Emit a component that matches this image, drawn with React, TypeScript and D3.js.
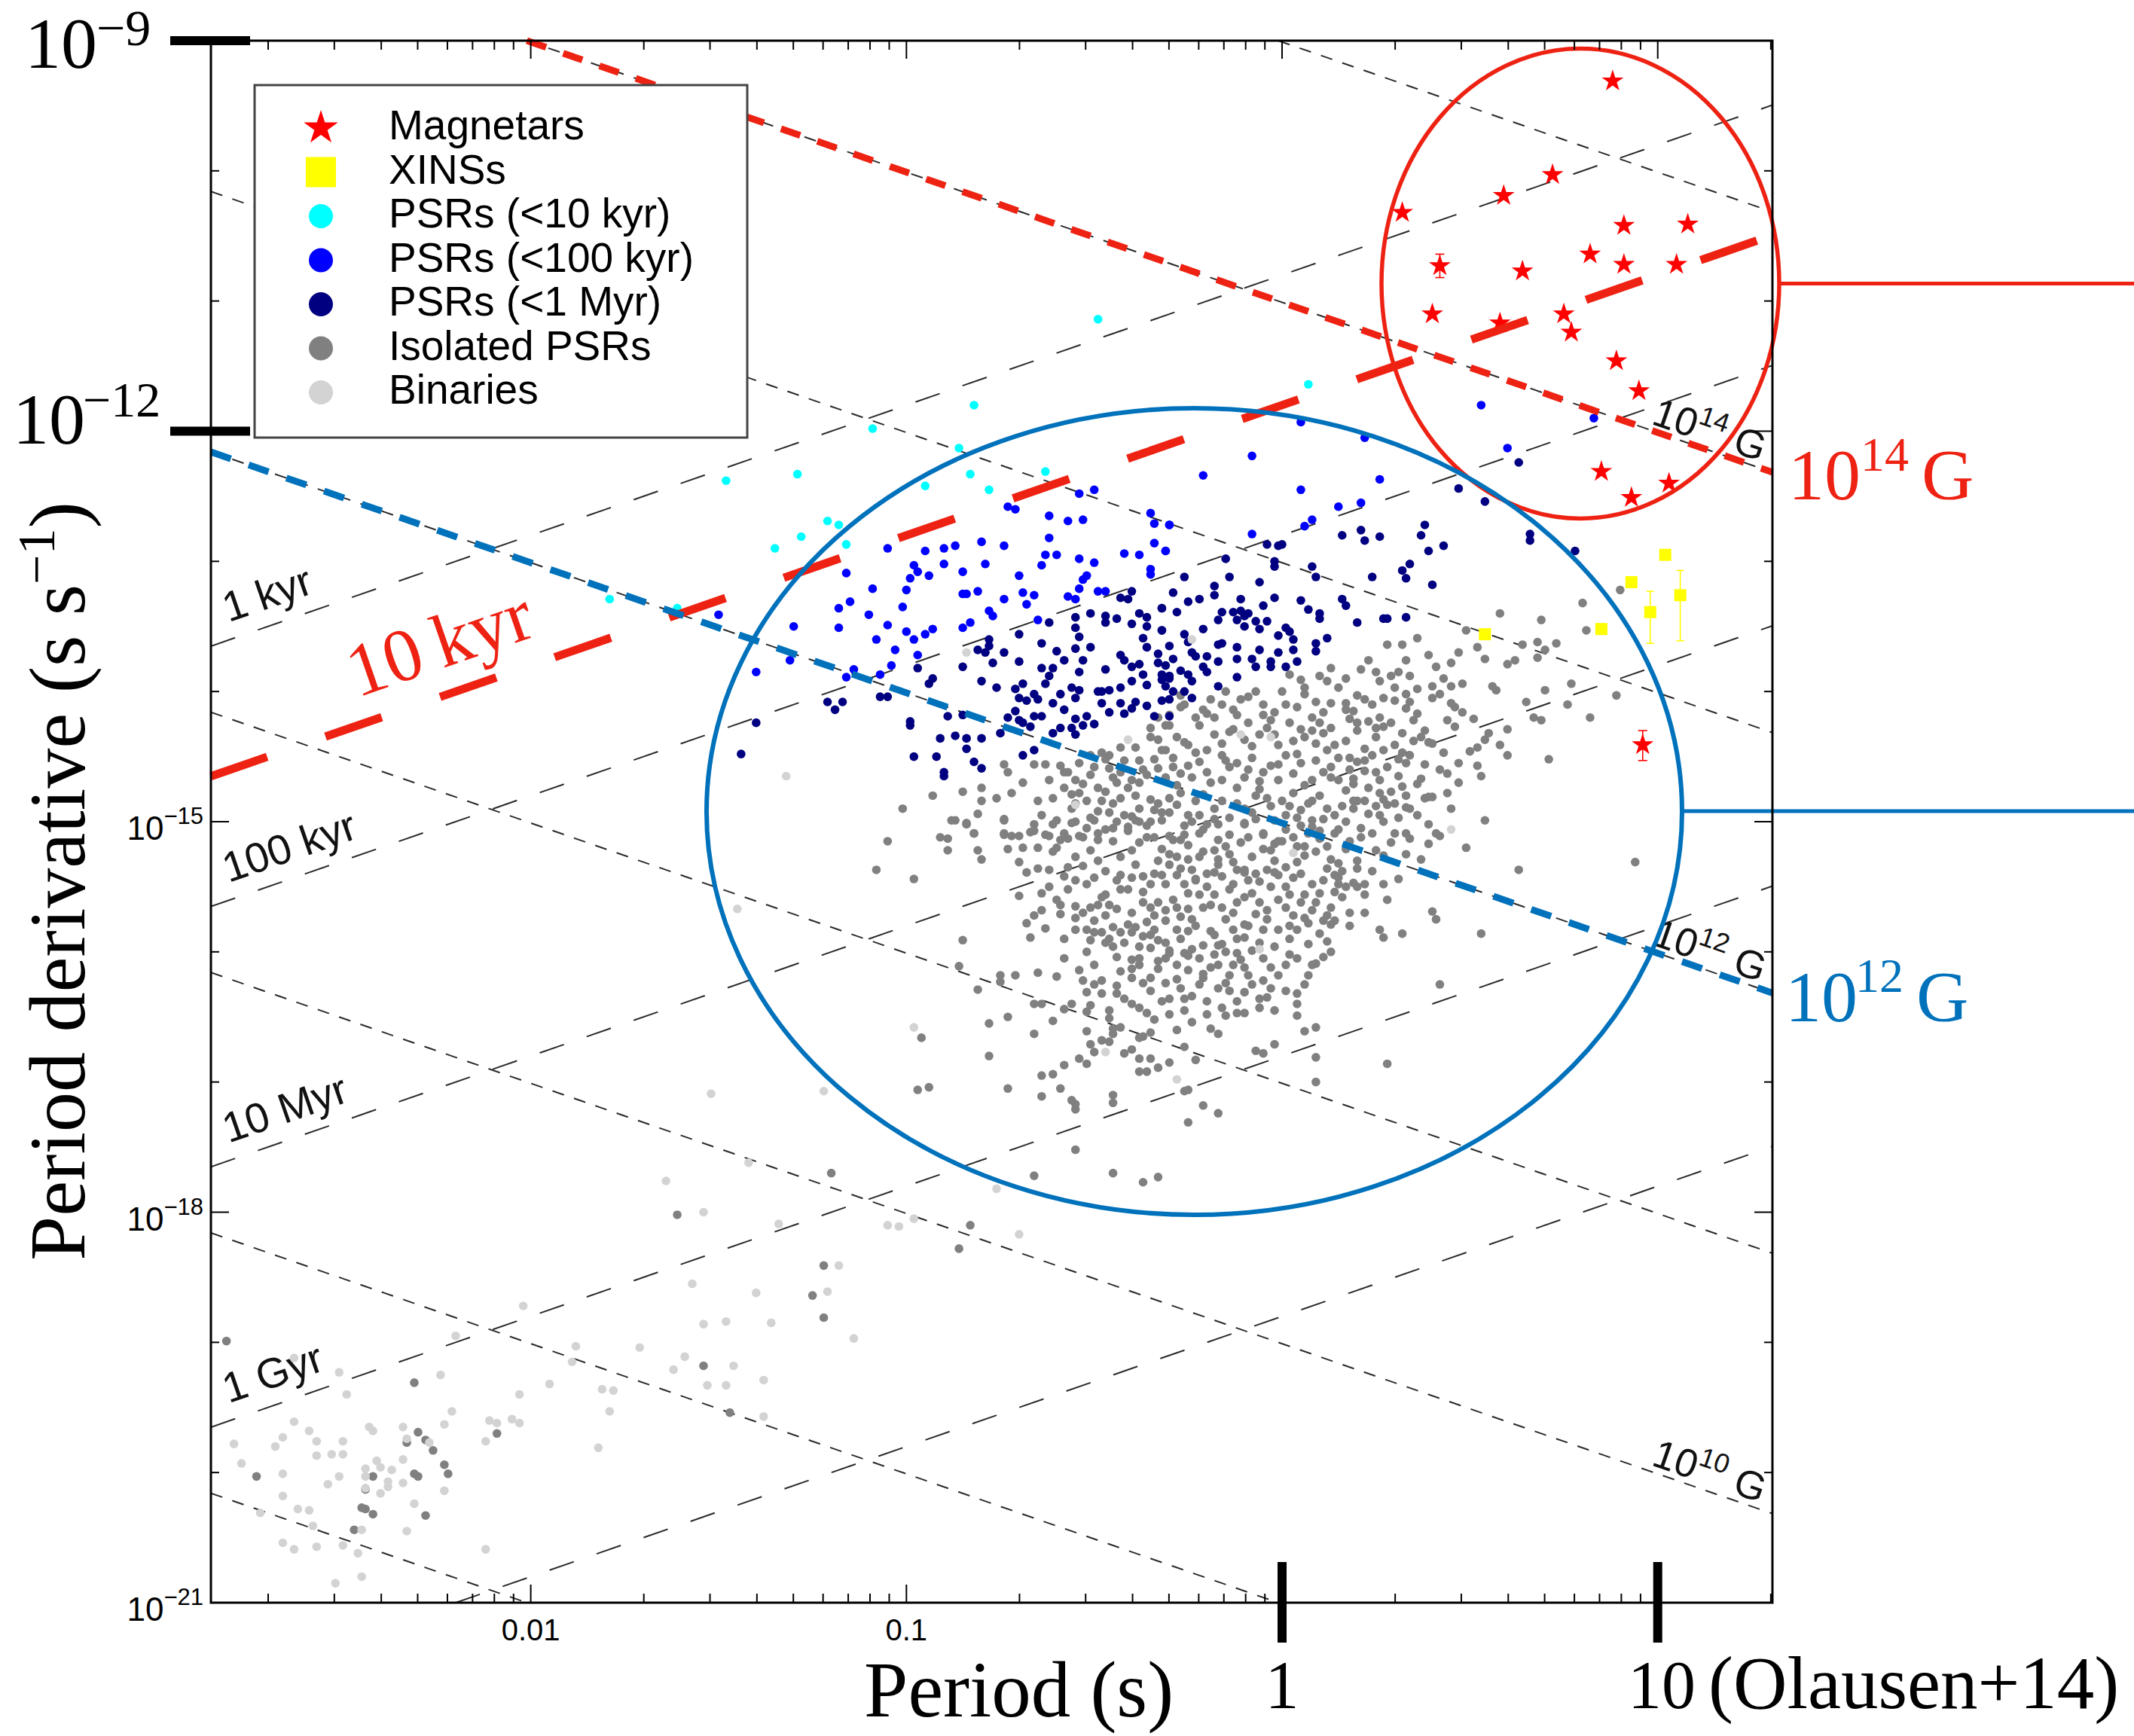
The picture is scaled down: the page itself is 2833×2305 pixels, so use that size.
import * as d3 from "d3";

type Pt = [number, number];

// all values are [log10 P (s), log10 Pdot (s/s)]
const magnetars: Pt[] = [
  [0.88, -9.31], [0.72, -10.03], [0.59, -10.19], [0.32, -10.32], [0.91, -10.42], [1.08, -10.41],
  [0.82, -10.64], [0.91, -10.72], [1.05, -10.72], [0.42, -10.73], [0.64, -10.77], [0.40, -11.10],
  [0.58, -11.17], [0.75, -11.10], [0.77, -11.24], [0.89, -11.46], [0.95, -11.69], [0.85, -12.31],
  [1.03, -12.40], [0.93, -12.51], [0.96, -14.41],
];
const magnetarErrors: [number, number, number][] = [[0.42, -10.64, -10.82], [0.96, -14.30, -14.53]];

const xinss: Pt[] = [[1.02, -12.95], [0.93, -13.16], [0.98, -13.39], [1.06, -13.26], [0.54, -13.56], [0.85, -13.52]];
const xinsErrors: [number, number, number][] = [[0.98, -13.23, -13.63], [1.06, -13.07, -13.61]];

const psr10kyr: Pt[] = [
  [-0.86, -12.13], [-1.29, -12.33], [-1.48, -12.38], [-0.95, -12.42], [-0.83, -12.33], [-0.78, -12.45],
  [-0.63, -12.31], [-1.21, -12.69], [-1.18, -12.72], [-1.28, -12.81], [-1.35, -12.90], [-1.16, -12.87],
  [-0.49, -11.14], [0.07, -11.64], [-1.79, -13.29], [-1.61, -13.36], [-0.82, -11.80], [-1.09, -11.98],
];

const psr100kyr: Pt[] = [
  [-0.54, -12.48], [-0.50, -12.45], [-0.73, -12.58], [-0.71, -12.60], [-0.62, -12.65], [-0.57, -12.69],
  [-0.53, -12.68], [-0.35, -12.63], [-0.34, -12.71], [-0.30, -12.72], [-0.62, -12.82], [-0.80, -12.85],
  [-0.74, -12.88], [-0.87, -12.88], [-0.90, -12.90], [-0.95, -12.92], [-1.05, -12.90], [-0.63, -12.95],
  [-0.60, -12.95], [-0.54, -12.98], [-0.50, -13.01], [-0.42, -12.94], [-0.38, -12.95], [-0.34, -12.86],
  [-0.31, -12.92], [-0.79, -13.02], [-0.90, -13.02], [-0.98, -13.03], [-0.97, -13.08], [-0.94, -13.11],
  [-0.99, -13.13], [-1.16, -13.09], [-0.85, -13.08], [-0.64, -13.03], [-0.35, -13.06], [-0.35, -13.10],
  [-0.70, -13.11], [-0.52, -13.11], [-0.53, -13.14], [-1.09, -13.21], [-1.00, -13.22], [-0.85, -13.25],
  [-0.84, -13.25], [-0.81, -13.23], [-0.69, -13.24], [-0.66, -13.26], [-0.54, -13.21], [-0.49, -13.23],
  [-0.47, -13.23], [-0.57, -13.27], [-0.55, -13.29], [-0.68, -13.33], [-0.74, -13.29], [-1.15, -13.31],
  [-1.18, -13.36], [-1.01, -13.35], [-1.10, -13.41], [-0.78, -13.38], [-0.77, -13.42], [-1.30, -13.50],
  [-1.18, -13.51], [-1.05, -13.49], [-1.00, -13.54], [-0.95, -13.56], [-0.93, -13.52], [-0.98, -13.60],
  [-0.85, -13.51], [-0.83, -13.47], [-0.65, -13.45], [-1.08, -13.60], [-1.03, -13.68], [-0.97, -13.72],
  [-1.04, -13.80], [-1.07, -13.87], [-1.14, -13.83], [-1.16, -13.89], [-1.31, -13.76], [-1.40, -13.85],
  [0.22, -12.05], [-0.08, -12.19], [-0.21, -12.34], [0.05, -12.45], [0.26, -12.37], [0.15, -12.58],
  [0.21, -12.55], [0.08, -12.68], [0.06, -12.73], [-0.08, -12.79], [-0.30, -12.72], [-0.31, -12.92],
  [0.60, -12.13], [0.05, -11.93], [0.53, -11.80], [0.83, -11.90], [-1.50, -13.41],
];

const psr1Myr: Pt[] = [
  [-0.70, -13.56], [-0.78, -13.60], [-0.78, -13.65], [-0.81, -13.68], [-0.74, -13.70], [-0.79, -13.70],
  [-0.77, -13.78], [-0.85, -13.81], [-0.97, -13.82], [-0.70, -13.77], [-0.64, -13.63], [-0.60, -13.69],
  [-0.62, -13.47], [-0.55, -13.43], [-0.55, -13.51], [-0.51, -13.40], [-0.47, -13.42], [-0.44, -13.44],
  [-0.47, -13.47], [-0.54, -13.58], [-0.55, -13.67], [-0.51, -13.66], [-0.58, -13.76], [-0.53, -13.76],
  [-0.64, -13.82], [-0.61, -13.82], [-0.54, -13.85], [-0.47, -13.83], [-0.40, -13.23], [-0.43, -13.28],
  [-0.41, -13.29], [-0.38, -13.40], [-0.36, -13.43], [-0.32, -13.36], [-0.40, -13.48], [-0.36, -13.50],
  [-0.32, -13.53], [-0.37, -13.59], [-0.36, -13.66], [-0.33, -13.71], [-0.30, -13.65], [-0.43, -13.72],
  [-0.42, -13.76], [-0.40, -13.81], [-0.38, -13.79], [-0.33, -13.78], [-0.37, -13.87], [-0.32, -13.87],
  [-0.30, -13.90], [-0.36, -13.95], [-0.31, -13.96], [-0.40, -13.92], [-0.43, -13.97], [-0.48, -14.00],
  [-0.46, -13.99], [-0.49, -14.00], [-0.56, -13.97], [-0.54, -13.99], [-0.59, -14.02], [-0.62, -13.88],
  [-0.63, -13.94], [-0.66, -14.02], [-0.69, -13.94], [-0.71, -13.98], [-0.70, -14.05], [-0.68, -14.07],
  [-0.65, -14.06], [-0.61, -14.09], [-0.58, -14.14], [-0.55, -14.05], [-0.48, -14.09], [-0.43, -14.09],
  [-0.39, -14.08], [-0.36, -14.11], [-0.32, -14.07], [-0.46, -14.16], [-0.42, -14.17], [-0.40, -14.13],
  [-0.34, -14.19], [-0.30, -14.19], [-0.71, -14.15], [-0.73, -14.20], [-0.70, -14.22], [-0.66, -14.19],
  [-0.64, -14.19], [-0.55, -14.21], [-0.52, -14.19], [-0.50, -14.25], [-0.53, -14.26], [-0.59, -14.28],
  [-0.56, -14.28], [-0.55, -14.33], [-0.61, -14.32], [-0.67, -14.27], [-0.69, -14.24], [-0.75, -14.32],
  [-0.76, -13.97], [-0.80, -13.92], [-0.93, -13.90], [-0.94, -13.94], [-1.07, -14.04], [-1.05, -14.04],
  [-0.99, -14.23], [-0.99, -14.26], [-0.89, -14.19], [-0.85, -14.18], [-0.91, -14.36], [-0.87, -14.34],
  [-0.84, -14.36], [-0.80, -14.36], [-0.84, -14.44], [-0.98, -14.50], [-0.92, -14.50], [-0.82, -14.54],
  [-0.80, -14.59], [-0.90, -14.62], [-0.90, -14.65], [-0.69, -14.49], [-0.66, -14.45], [-1.21, -14.08],
  [-1.17, -14.08], [-1.19, -14.14], [-1.40, -14.24], [-1.44, -14.48],
  [0.63, -12.24], [0.47, -12.44], [0.54, -12.54], [0.66, -12.79], [0.66, -12.84], [0.78, -12.92],
  [0.38, -12.72], [0.37, -12.80], [0.39, -12.92], [0.43, -12.88], [0.34, -13.02], [0.32, -13.07],
  [0.33, -13.13], [0.40, -13.18], [0.24, -13.12], [0.16, -12.80], [0.21, -12.76], [0.22, -12.84],
  [0.26, -12.81], [-0.04, -12.87], [-0.01, -12.88], [0.00, -12.87], [-0.02, -13.00], [-0.02, -13.04],
  [0.08, -13.04], [0.09, -13.12], [-0.15, -12.98], [-0.26, -13.12], [-0.14, -13.12], [-0.06, -13.16],
  [-0.18, -13.19], [-0.29, -13.24], [-0.22, -13.29], [-0.18, -13.26], [-0.25, -13.31], [-0.11, -13.29],
  [-0.02, -13.28], [0.05, -13.30], [-0.05, -13.34], [0.07, -13.37], [0.10, -13.40], [0.10, -13.44],
  [0.16, -13.29], [0.17, -13.34], [0.20, -13.47], [0.27, -13.44], [0.28, -13.44], [0.33, -13.43],
  [0.12, -13.59], [0.09, -13.63], [0.09, -13.69], [-0.32, -13.36], [-0.28, -13.39], [-0.17, -13.45],
  [-0.16, -13.39], [-0.13, -13.39], [-0.11, -13.38], [-0.12, -13.45], [-0.10, -13.42], [-0.09, -13.40],
  [-0.10, -13.50], [-0.07, -13.46], [-0.06, -13.52], [-0.04, -13.46], [0.01, -13.51], [0.02, -13.54],
  [-0.01, -13.57], [0.03, -13.60], [-0.21, -13.52], [-0.32, -13.53], [-0.26, -13.56], [-0.25, -13.62],
  [-0.17, -13.64], [-0.16, -13.63], [-0.12, -13.66], [-0.12, -13.75], [-0.06, -13.68], [-0.01, -13.70],
  [0.03, -13.68], [-0.08, -13.75], [-0.07, -13.81], [-0.03, -13.77], [-0.03, -13.81], [0.01, -13.81],
  [0.04, -13.77], [-0.29, -13.75], [-0.31, -13.80], [-0.27, -13.84], [-0.24, -13.70], [-0.23, -13.73],
  [-0.20, -13.73], [-0.17, -13.77], [-0.21, -13.81], [-0.20, -13.85], [-0.25, -13.87], [-0.30, -13.88],
  [-0.32, -13.91], [-0.24, -13.92], [-0.29, -14.00], [-0.26, -14.00], [-0.24, -14.05], [-0.30, -14.06],
  [-0.12, -13.89], [-0.17, -13.96],
];

const isolatedPsrs: Pt[] = [
  [-0.74, -14.56], [-0.66, -14.56], [-0.63, -14.56], [-0.73, -14.62], [-0.69, -14.70], [-0.62, -14.68],
  [-0.59, -14.57], [-0.57, -14.62], [-0.54, -14.55], [-0.51, -14.49], [-0.48, -14.47], [-0.46, -14.49],
  [-0.43, -14.43], [-0.39, -14.43], [-0.35, -14.28], [-0.33, -14.20], [-0.30, -14.26], [-0.33, -14.37],
  [-0.31, -14.45], [-0.38, -14.53], [-0.42, -14.53], [-0.46, -14.59], [-0.51, -14.64], [-0.55, -14.68],
  [-0.58, -14.74], [-0.54, -14.78], [-0.49, -14.74], [-0.44, -14.70], [-0.40, -14.68], [-0.36, -14.64],
  [-0.33, -14.59], [-0.31, -14.68], [-0.39, -14.80], [-0.43, -14.82], [-0.48, -14.84], [-0.52, -14.84],
  [-0.56, -14.90], [-0.61, -14.82], [-0.65, -14.84], [-0.64, -14.95], [-0.60, -14.99], [-0.56, -15.01],
  [-0.51, -14.97], [-0.46, -14.93], [-0.42, -14.95], [-0.38, -14.90], [-0.33, -14.86], [-0.30, -14.82],
  [-0.32, -14.99], [-0.36, -15.03], [-0.41, -15.07], [-0.45, -15.05], [-0.49, -15.09], [-0.54, -15.11],
  [-0.58, -15.09], [-0.62, -15.11], [-0.66, -15.07], [-0.70, -15.11], [-0.74, -15.09], [-0.72, -14.78],
  [-0.76, -14.82], [-0.80, -14.74], [-0.80, -14.84], [-0.85, -14.77], [-0.93, -14.80], [-1.01, -14.90],
  [-0.88, -14.99], [-0.84, -15.02], [-0.82, -15.09], [-0.74, -14.99], [-0.91, -15.12], [-1.05, -15.15],
  [-0.81, -14.94],
  [0.58, -13.40], [0.80, -13.32], [0.90, -13.22],
  [0.02, -13.87], [0.00, -14.00], [0.05, -13.91], [0.10, -13.88], [0.12, -13.92], [0.06, -13.97],
  [0.09, -14.08], [0.13, -14.09], [0.11, -14.16], [0.08, -14.20], [0.13, -14.28], [0.06, -14.35],
  [0.09, -14.40], [0.12, -14.45], [0.15, -14.51], [0.15, -14.68], [0.11, -14.62], [0.08, -14.68],
  [0.05, -14.55], [0.01, -14.49], [-0.01, -14.41], [-0.02, -14.33], [0.02, -14.24], [-0.02, -14.16],
  [-0.05, -14.10], [-0.07, -14.00], [-0.11, -14.06], [-0.15, -14.00], [-0.16, -14.10], [-0.12, -14.18],
  [-0.09, -14.24], [-0.06, -14.33], [-0.10, -14.37], [-0.14, -14.31], [-0.18, -14.20], [-0.21, -14.14],
  [-0.23, -14.20], [-0.27, -14.12], [-0.30, -14.18], [-0.31, -14.26], [-0.28, -14.35], [-0.25, -14.41],
  [-0.20, -14.45], [-0.16, -14.49], [-0.12, -14.55], [-0.08, -14.51], [-0.05, -14.62], [-0.01, -14.68],
  [0.03, -14.78], [0.08, -14.84], [0.12, -14.90], [0.14, -15.09], [0.10, -15.07], [0.05, -15.03],
  [0.01, -14.95], [-0.03, -14.88], [-0.07, -14.80], [-0.12, -14.74], [-0.16, -14.68], [-0.20, -14.62],
  [-0.25, -14.57], [-0.29, -14.51], [-0.32, -14.45], [-0.31, -14.66], [-0.27, -14.78], [-0.23, -14.84],
  [-0.18, -14.90], [-0.14, -14.97], [-0.10, -15.01], [-0.05, -15.09], [-0.01, -15.15], [-0.30, -14.93],
  [-0.26, -15.03], [-0.22, -15.09], [-0.17, -15.14], [-0.30, -15.11],
  [-0.87, -14.99], [-0.84, -15.01], [-0.89, -15.13], [-0.89, -15.22], [-0.82, -15.09], [-0.81, -15.22],
  [-0.80, -15.29], [-0.74, -14.98], [-0.74, -15.10], [-0.72, -15.11], [-0.73, -15.21], [-0.69, -15.20],
  [-0.67, -15.08], [-0.66, -15.02], [-0.63, -15.10], [-0.65, -15.20], [-0.70, -15.31], [-0.68, -15.39],
  [-0.65, -15.36], [-0.62, -15.37], [-0.62, -15.50], [-0.64, -15.55], [-0.70, -15.57], [-0.57, -15.52],
  [-0.58, -15.42], [-0.59, -15.64], [-0.59, -15.71], [-0.64, -15.68], [-0.66, -15.72], [-0.68, -15.78],
  [-0.63, -15.82], [-0.67, -15.89], [-0.85, -15.91], [-0.86, -16.11], [-0.75, -16.18], [-0.71, -16.18],
  [-0.65, -16.16], [-0.60, -16.19], [-0.81, -16.29], [-0.75, -16.23], [-0.55, -15.65], [-0.55, -15.83],
  [-0.52, -15.83], [-0.51, -15.91], [-0.51, -15.66], [-0.49, -15.64], [-0.47, -15.56], [-0.50, -15.43],
  [-0.52, -15.48], [-0.53, -15.34], [-0.55, -15.27], [-0.59, -15.14], [-0.61, -15.23], [-0.61, -15.02],
  [-0.55, -15.00], [-0.53, -15.12], [-0.49, -15.14], [-0.47, -15.06], [-0.44, -15.00], [-0.41, -15.04],
  [-0.38, -15.00], [-0.35, -15.00], [-0.34, -15.12], [-0.32, -15.21], [-0.29, -15.14], [-0.26, -15.10],
  [-0.24, -15.00], [-0.21, -15.06], [-0.17, -15.02], [-0.14, -15.10], [-0.10, -15.02], [-0.07, -14.98],
  [-0.05, -15.10], [-0.02, -15.17], [0.01, -15.06], [0.03, -15.12], [0.08, -15.04], [0.11, -14.98],
  [0.15, -15.06], [0.17, -15.21], [0.13, -15.29], [0.09, -15.23], [0.06, -15.19], [0.04, -15.31],
  [0.01, -15.35], [-0.02, -15.39], [-0.07, -15.40], [-0.10, -15.37], [-0.12, -15.37], [-0.14, -15.25],
  [-0.17, -15.29], [-0.21, -15.23], [-0.25, -15.29], [-0.28, -15.27], [-0.30, -15.33], [-0.32, -15.41],
  [-0.35, -15.48], [-0.37, -15.54], [-0.40, -15.43], [-0.43, -15.41], [-0.43, -15.52], [-0.47, -15.72],
  [-0.45, -15.81], [-0.48, -15.85], [-0.50, -15.76], [-0.47, -15.93], [-0.45, -15.96], [-0.43, -15.85],
  [-0.41, -15.79], [-0.39, -15.81], [-0.40, -15.70], [-0.35, -15.66], [-0.33, -15.62], [-0.31, -15.68],
  [-0.31, -15.76], [-0.34, -15.83], [-0.35, -15.87], [-0.33, -15.91], [-0.31, -15.93], [-0.30, -15.99],
  [-0.28, -15.83], [-0.25, -15.84], [-0.25, -15.67], [-0.21, -15.66], [-0.19, -15.64], [-0.18, -15.56],
  [-0.20, -15.50], [-0.23, -15.44], [-0.26, -15.48], [-0.28, -15.41], [-0.24, -15.37], [-0.18, -15.39],
  [-0.17, -15.33], [-0.13, -15.48], [-0.10, -15.39], [-0.12, -15.62], [-0.10, -15.58], [-0.06, -15.62],
  [-0.04, -15.68], [-0.03, -15.50], [-0.01, -15.41], [0.02, -15.56], [0.05, -15.62], [0.01, -15.66],
  [0.06, -15.56], [0.09, -15.62], [0.13, -15.66], [0.14, -15.76], [0.11, -15.76], [0.06, -15.74],
  [0.04, -15.83], [-0.01, -15.83], [-0.05, -15.83], [-0.10, -15.79], [-0.13, -15.83], [-0.10, -15.89],
  [-0.06, -15.93], [-0.08, -15.99], [-0.10, -16.12], [-0.05, -16.22], [-0.03, -16.28], [-0.09, -16.18],
  [-0.12, -16.01], [-0.15, -16.00], [-0.17, -15.95], [-0.18, -15.87], [-0.21, -15.95], [-0.22, -16.05],
  [-0.19, -16.12], [-0.17, -16.10], [-0.14, -16.18], [-0.15, -16.24], [-0.17, -16.28], [-0.21, -16.17],
  [-0.25, -16.14], [-0.25, -16.03], [-0.26, -16.01], [-0.30, -16.01], [-0.33, -16.07], [-0.35, -15.97],
  [-0.38, -16.05], [-0.40, -16.13], [-0.40, -16.06], [-0.33, -16.13], [-0.35, -16.20], [-0.38, -16.10],
  [-0.31, -16.24], [-0.28, -16.21], [-0.30, -16.36], [-0.32, -16.38], [-0.26, -16.36], [-0.24, -16.34],
  [-0.26, -16.45], [-0.24, -16.54], [-0.20, -16.48], [-0.16, -16.43], [-0.15, -16.49], [-0.12, -16.38],
  [-0.10, -16.31], [-0.12, -16.47], [-0.06, -16.36], [-0.06, -16.43], [-0.10, -16.47], [-0.19, -16.59],
  [-0.17, -16.63], [-0.07, -16.76], [-0.05, -16.78], [-0.02, -16.71], [0.04, -16.32], [0.04, -16.40],
  [0.04, -16.49], [0.06, -16.61], [0.09, -16.58], [0.09, -16.81], [0.09, -17.00], [0.04, -16.05],
  [0.01, -16.10], [-0.03, -16.12], [0.07, -16.18], [0.09, -16.09], [0.11, -16.04], [0.13, -16.00],
  [0.12, -15.92], [0.13, -15.79], [0.14, -15.54], [0.15, -15.48], [0.14, -15.41], [-0.54, -16.14],
  [-0.53, -16.22], [-0.52, -16.31], [-0.48, -16.22], [-0.48, -16.32], [-0.44, -16.26], [-0.44, -16.32],
  [-0.42, -16.36], [-0.40, -16.40], [-0.38, -16.43], [-0.36, -16.47], [-0.37, -16.65], [-0.35, -16.62],
  [-0.34, -16.52], [-0.38, -16.66], [-0.46, -16.51], [-0.45, -16.59], [-0.45, -16.63], [-0.46, -16.69],
  [-0.48, -16.68], [-0.52, -16.61], [-0.51, -16.71], [-0.50, -16.77], [-0.42, -16.78], [-0.40, -16.75],
  [-0.51, -16.41], [-0.52, -16.46], [-0.58, -16.44], [-0.61, -16.53], [-0.66, -16.40], [-0.64, -16.40],
  [-0.73, -16.50], [-0.78, -16.55], [-0.66, -16.63], [-0.78, -16.80], [-0.58, -16.87], [-0.54, -16.82],
  [-0.52, -16.86], [-0.64, -16.95], [-0.61, -16.94], [-0.73, -17.05], [-0.64, -17.11], [-0.59, -17.05],
  [-0.56, -17.14], [-0.55, -17.21], [-0.55, -17.17], [-0.45, -17.10], [-0.45, -17.16], [-0.38, -16.82],
  [-0.35, -16.82], [-0.38, -16.92], [-0.36, -16.92], [-0.33, -16.89], [-0.30, -16.85], [-0.26, -17.07],
  [-0.25, -17.06], [-0.21, -17.18], [-0.17, -17.24], [-0.25, -17.31], [-0.26, -16.73], [-0.23, -16.83],
  [-0.55, -17.52], [-0.66, -17.72], [-0.45, -17.70], [-0.37, -17.77], [-0.33, -17.73], [-0.83, -18.10],
  [0.28, -13.64], [0.32, -13.64], [0.36, -13.59], [0.49, -13.53], [0.52, -13.66], [0.54, -13.75],
  [0.60, -13.79], [0.62, -13.76], [0.64, -13.64], [0.68, -13.62], [0.68, -13.74], [0.70, -13.68],
  [0.73, -13.63], [0.81, -13.53], [0.69, -13.45], [0.21, -13.83], [0.25, -13.85], [0.29, -13.88],
  [0.31, -13.85], [0.34, -13.88], [0.33, -13.76], [0.39, -13.72], [0.41, -13.81], [0.43, -13.90],
  [0.45, -13.96], [0.48, -13.94], [0.45, -13.78], [0.47, -13.70], [0.17, -13.90], [0.30, -13.97],
  [0.36, -13.98], [0.40, -13.96], [0.42, -14.02], [0.27, -14.05], [0.30, -14.07], [0.33, -14.02],
  [0.34, -14.08], [0.45, -14.09], [0.48, -14.16], [0.19, -14.15], [0.22, -14.06], [0.17, -14.09],
  [0.36, -14.17], [0.44, -14.22], [0.46, -14.27], [0.55, -14.32], [0.54, -14.37], [0.60, -14.29],
  [0.56, -13.96], [0.57, -13.99], [0.65, -14.08], [0.67, -14.20], [0.69, -14.22], [0.70, -13.99],
  [0.77, -13.94], [0.76, -14.10], [0.82, -14.20], [0.89, -14.03], [0.50, -14.46], [0.52, -14.43],
  [0.52, -14.57], [0.60, -14.49], [0.71, -14.52], [0.20, -14.24], [0.23, -14.23], [0.25, -14.28],
  [0.29, -14.24], [0.32, -14.32], [0.35, -14.38], [0.37, -14.35], [0.40, -14.40], [0.43, -14.47],
  [0.34, -14.49], [0.31, -14.52], [0.24, -14.49], [0.20, -14.54], [0.22, -14.61], [0.25, -14.62],
  [0.28, -14.58], [0.31, -14.65], [0.32, -14.73], [0.33, -14.80], [0.34, -14.90], [0.37, -14.67],
  [0.39, -14.81], [0.40, -14.81], [0.44, -14.63], [0.44, -14.78], [0.17, -14.38], [0.18, -14.51],
  [0.19, -14.67], [0.17, -14.76], [0.19, -14.84], [0.23, -14.74], [0.26, -14.78], [0.28, -14.87],
  [0.25, -14.88], [0.22, -14.84], [0.19, -14.90], [0.17, -15.00], [0.21, -15.05], [0.24, -15.09],
  [0.27, -15.00], [0.30, -15.09], [0.33, -15.09], [0.34, -15.13], [0.39, -15.02], [0.41, -15.09],
  [0.42, -15.11], [0.39, -15.17], [0.27, -15.26], [0.31, -15.44], [0.22, -15.48], [0.22, -15.56],
  [0.28, -15.60], [0.19, -15.47], [0.16, -15.38], [0.20, -15.36], [0.22, -15.70], [0.26, -15.83],
  [0.27, -15.89], [0.32, -15.86], [0.40, -15.69], [0.41, -15.75], [0.37, -15.29], [0.49, -15.20],
  [0.54, -14.99], [0.63, -15.37], [0.94, -15.31], [0.53, -15.86], [0.42, -16.25],
  [-1.08, -15.37], [-0.98, -15.44], [-0.96, -16.66], [0.28, -16.86],
  [-0.27, -14.03], [-0.19, -14.06], [-0.09, -14.04], [0.04, -14.12], [0.17, -14.14], [0.24, -14.10],
  [0.33, -14.13], [-0.22, -14.26], [-0.13, -14.29], [-0.03, -14.22], [0.05, -14.29], [0.11, -14.32],
  [0.20, -14.30], [0.27, -14.27], [-0.35, -14.35], [-0.26, -14.39], [-0.18, -14.33], [-0.08, -14.42],
  [0.03, -14.38], [0.14, -14.41], [0.22, -14.44], [0.30, -14.41], [0.38, -14.30],
  [-0.50, -14.58], [-0.45, -14.66], [-0.37, -14.60], [-0.27, -14.63], [-0.22, -14.54], [-0.14, -14.58],
  [-0.10, -14.66], [-0.03, -14.57], [0.03, -14.63], [0.06, -14.72], [0.13, -14.58], [0.19, -14.71],
  [0.26, -14.68], [0.29, -14.77], [0.36, -14.71], [-0.56, -14.79], [-0.47, -14.77], [-0.41, -14.74],
  [-0.35, -14.83], [-0.28, -14.72], [-0.21, -14.79], [-0.12, -14.86], [-0.06, -14.75], [0.00, -14.84],
  [0.05, -14.91], [0.10, -14.80], [0.16, -14.88], [0.23, -14.94], [0.30, -14.86], [-0.49, -14.92],
  [-0.40, -14.96], [-0.34, -14.91], [-0.25, -14.95], [-0.18, -14.98], [-0.08, -14.93], [-0.02, -14.99],
  [0.04, -14.97], [0.08, -14.99],
  [-0.60, -15.20], [-0.52, -15.05], [-0.45, -15.15], [-0.40, -15.22], [-0.36, -15.12], [-0.30, -15.25],
  [-0.25, -15.18], [-0.20, -15.02], [-0.18, -15.22], [-0.11, -15.16], [-0.08, -15.27], [-0.03, -15.22],
  [0.04, -15.19], [0.06, -15.26], [0.10, -15.13], [0.12, -15.36], [0.18, -15.15], [0.20, -15.30],
  [0.25, -15.22], [-0.57, -15.35], [-0.49, -15.30], [-0.44, -15.45], [-0.39, -15.33], [-0.34, -15.40],
  [-0.27, -15.36], [-0.23, -15.45], [-0.16, -15.42], [-0.13, -15.31], [-0.06, -15.46], [-0.02, -15.30],
  [0.03, -15.43], [0.08, -15.48], [0.11, -15.45], [0.17, -15.50], [0.24, -15.38],
  [-0.60, -15.60], [-0.55, -15.74], [-0.48, -15.58], [-0.44, -15.67], [-0.37, -15.62], [-0.36, -15.77],
  [-0.29, -15.60], [-0.27, -15.73], [-0.22, -15.56], [-0.16, -15.66], [-0.15, -15.75], [-0.08, -15.55],
  [-0.07, -15.71], [-0.01, -15.60], [0.03, -15.72], [0.08, -15.68], [0.10, -15.86], [0.16, -15.58],
  [0.18, -15.70], [-0.58, -15.90], [-0.50, -15.85], [-0.42, -15.93], [-0.37, -15.88], [-0.27, -15.90],
  [-0.23, -15.80], [-0.16, -15.94], [-0.12, -15.90], [-0.02, -15.96], [0.02, -15.90], [0.07, -15.94],
  [-0.58, -16.05], [-0.50, -16.10], [-0.44, -16.04], [-0.40, -16.20], [-0.35, -16.30], [-0.28, -16.10],
  [-0.22, -16.25], [-0.13, -16.10], [-0.08, -16.25], [-0.01, -16.18], [0.06, -16.25], [-0.56, -16.40],
  [-0.46, -16.45], [-0.30, -16.48], [-0.20, -16.38], [-0.02, -16.45], [-0.43, -16.58], [-0.28, -16.60],
  [0.40, -14.05], [0.46, -14.12], [0.51, -14.21], [0.38, -14.56], [0.47, -14.55], [0.36, -14.95],
  [0.45, -14.90], [0.26, -14.95], [0.31, -14.97], [0.06, -14.02], [0.15, -13.97], [0.20, -14.03],
  [0.26, -13.92], [0.13, -13.82], [0.23, -13.76],
  [-0.58, -14.62], [-0.53, -14.71], [-0.47, -14.52], [-0.43, -14.62], [-0.38, -14.70], [-0.34, -14.52],
  [-0.29, -14.58], [-0.24, -14.66], [-0.19, -14.70], [-0.15, -14.53], [-0.09, -14.60], [-0.06, -14.69],
  [-0.01, -14.56], [0.04, -14.48], [0.09, -14.53], [0.13, -14.66], [0.18, -14.60], [0.22, -14.53],
  [0.27, -14.45], [0.33, -14.55], [-0.55, -14.86], [-0.50, -14.99], [-0.45, -14.86], [-0.39, -14.99],
  [-0.32, -14.93], [-0.28, -14.87], [-0.22, -14.95], [-0.16, -14.84], [-0.10, -14.90], [-0.04, -14.82],
  [0.02, -14.88], [0.07, -14.86], [0.14, -14.95], [0.20, -14.84], [0.27, -14.83], [0.33, -14.89],
  [-0.57, -15.13], [-0.51, -15.22], [-0.43, -15.27], [-0.38, -15.16], [-0.33, -15.30], [-0.27, -15.14],
  [-0.22, -15.27], [-0.15, -15.19], [-0.09, -15.12], [-0.05, -15.21], [0.00, -15.15], [0.07, -15.09],
  [0.12, -15.19], [0.15, -15.32], [0.21, -15.12], [0.29, -15.16], [0.33, -15.25],
  [-0.55, -15.45], [-0.47, -15.38], [-0.41, -15.52], [-0.37, -15.42], [-0.31, -15.48], [-0.25, -15.55],
  [-0.20, -15.40], [-0.14, -15.52], [-0.09, -15.45], [-0.04, -15.37], [0.01, -15.50], [0.05, -15.40],
  [0.10, -15.55], [0.15, -15.43], [0.20, -15.50], [0.27, -15.48],
  [-0.53, -15.70], [-0.46, -15.64], [-0.40, -15.85], [-0.34, -15.72], [-0.28, -15.66], [-0.24, -15.75],
  [-0.19, -15.84], [-0.13, -15.70], [-0.09, -15.80], [-0.04, -15.75], [0.02, -15.80], [0.07, -15.78],
  [0.12, -15.72], [0.18, -15.80],
  [-0.52, -16.00], [-0.46, -15.90], [-0.38, -15.96], [-0.31, -16.05], [-0.24, -15.98], [-0.18, -16.02],
  [-0.11, -16.06], [-0.05, -16.05], [0.02, -16.02], [0.08, -16.10],
  [-0.50, -16.25], [-0.43, -16.15], [-0.37, -16.24], [-0.27, -16.28], [-0.21, -16.20], [-0.14, -16.30],
  [-0.04, -16.35], [0.01, -16.30],
  [-0.26, -14.10], [-0.20, -14.17], [-0.13, -14.14], [-0.05, -14.18], [0.01, -14.10], [0.10, -14.24],
  [0.18, -14.21], [0.26, -14.20], [0.35, -14.22], [-0.04, -14.28], [-0.16, -14.40], [-0.23, -14.47],
  [0.08, -14.30], [0.25, -14.35], [0.32, -14.47], [0.39, -14.39], [0.42, -14.60], [0.38, -14.82],
  [0.47, -14.70], [0.53, -14.65], [0.58, -14.41],
  [-0.97, -17.06], [-0.94, -17.04], [-1.20, -17.70], [-1.61, -18.02], [-1.22, -18.41], [-1.25, -18.64],
  [-1.22, -18.81], [-0.86, -18.28], [-2.81, -18.99], [-2.31, -19.31], [-1.54, -19.18], [-1.47, -19.54],
  [-2.09, -19.70], [-2.30, -19.69], [-2.33, -19.77], [-2.28, -19.75], [-2.26, -19.83], [-2.23, -19.94],
  [-2.22, -20.01], [-2.31, -20.01], [-2.30, -20.03], [-2.42, -20.03], [-2.44, -20.13], [-2.45, -20.27],
  [-2.44, -20.28], [-2.42, -20.32], [-2.28, -20.33], [-2.47, -20.44], [-2.73, -20.03],
];

const binaries: Pt[] = [
  [-1.52, -17.09], [-1.22, -17.07], [-1.42, -17.62], [-1.64, -17.76], [-1.54, -18.00], [-1.34, -18.09],
  [-1.05, -18.10], [-1.02, -18.11], [-0.98, -18.05], [-1.18, -18.41], [-1.57, -18.55], [-1.40, -18.62],
  [-1.21, -18.61], [-2.02, -18.72], [-1.54, -18.86], [-1.48, -18.84], [-1.36, -18.85], [-1.14, -18.97],
  [-2.20, -18.95], [-1.88, -19.03], [-1.71, -19.04], [-1.59, -19.11], [-1.89, -19.15], [-1.62, -19.21],
  [-1.46, -19.18], [-1.38, -19.29], [-1.53, -19.33], [-1.48, -19.33], [-2.63, -19.12], [-2.51, -19.23],
  [-2.49, -19.40], [-2.24, -19.25], [-1.95, -19.32], [-2.03, -19.40], [-1.81, -19.36], [-1.78, -19.37],
  [-1.79, -19.53], [-1.38, -19.57], [-2.21, -19.53], [-2.11, -19.60], [-2.09, -19.62], [-2.05, -19.59],
  [-2.03, -19.62], [-2.23, -19.63], [-2.12, -19.76], [-1.82, -19.81], [-2.63, -19.61], [-2.79, -19.78],
  [-2.66, -19.73], [-2.68, -19.80], [-2.59, -19.68], [-2.57, -19.76], [-2.57, -19.87], [-2.53, -19.86],
  [-2.50, -19.86], [-2.50, -19.76], [-2.43, -19.65], [-2.42, -19.68], [-2.34, -19.65], [-2.33, -19.74],
  [-2.27, -19.77], [-2.34, -19.90], [-2.41, -19.91], [-2.40, -19.96], [-2.37, -19.98], [-2.38, -20.07],
  [-2.38, -20.11], [-2.34, -20.08], [-2.44, -19.97], [-2.44, -20.03], [-2.40, -20.16], [-2.44, -20.12],
  [-2.51, -20.03], [-2.54, -20.09], [-2.66, -20.01], [-2.77, -19.93], [-2.72, -20.31], [-2.66, -20.18],
  [-2.62, -20.28], [-2.59, -20.29], [-2.58, -20.41], [-2.66, -20.54], [-2.63, -20.59], [-2.57, -20.57],
  [-2.50, -20.56], [-2.46, -20.62], [-2.45, -20.80], [-2.52, -20.85], [-2.45, -20.44], [-2.33, -20.45],
  [-2.31, -20.24], [-2.23, -20.14], [-2.12, -20.59],
  [-0.98, -16.58], [-1.45, -15.67], [-1.32, -14.65], [-0.76, -17.82], [-0.70, -18.17], [-0.28, -16.98],
  [-0.55, -14.87], [-0.41, -14.37], [-0.11, -14.33], [-0.03, -14.35], [0.03, -15.24], [-0.06, -15.98],
  [-0.47, -16.77], [0.45, -15.06], [-0.84, -13.70], [-0.24, -13.60],
];

const legendLabels = ["Magnetars", "XINSs", "PSRs (<10 kyr)", "PSRs (<100 kyr)", "PSRs (<1 Myr)", "Isolated PSRs", "Binaries"];
const ageLinesYr = [1e3, 1e5, 1e7, 1e9, 1e11];
const ageLabels: [string, number][] = [["1 kyr", 1e3], ["100 kyr", 1e5], ["10 Myr", 1e7], ["1 Gyr", 1e9]];
const fieldLinesG = [1e8, 1e9, 1e10, 1e11, 1e12, 1e13, 1e14, 1e15];
const fieldLabelExps = [10, 12, 14];
const xTickLabels: [number, string][] = [[0.01, "0.01"], [0.1, "0.1"]];
const yTickLabelExps = [-15, -18, -21];

const W = 2833;
const H = 2305;
const frame = { left: 280, right: 2353, top: 54, bottom: 2128 };
const SANS = "'Liberation Sans', Arial, Helvetica, sans-serif";
const SERIF = "'Liberation Serif', 'Times New Roman', Times, serif";
const RED = "#ee2213";
const BLUE = "#0071bb";
const LINE = "#2b2b2b";
const YEAR = 3.156e7;

const x = d3.scaleLog().domain([0.001408, 20.2]).range([frame.left, frame.right]);
const y = d3.scaleLog().domain([1e-21, 1e-9]).range([frame.bottom, frame.top]);
const logX = x.domain().map(Math.log10);

// line log Pdot = s * log P + c, cut to the frame
function segment(s: number, c: number) {
  const p1 = (-21 - c) / s;
  const p2 = (-9 - c) / s;
  const a = Math.max(logX[0], Math.min(p1, p2));
  const b = Math.min(logX[1], Math.max(p1, p2));
  return `M${x(10 ** a)},${y(10 ** (s * a + c))}L${x(10 ** b)},${y(10 ** (s * b + c))}`;
}
const ageC = (yr: number) => -Math.log10(2 * yr * YEAR);
const fieldC = (g: number) => 2 * Math.log10(g / 3.2e19);

const px = (p: Pt) => x(10 ** p[0]);
const py = (p: Pt) => y(10 ** p[1]);

const star = (size: number) => d3.symbol().type(d3.symbolStar).size(size)() as string;

export default function App() {
  const decX = x(10) - x(1);
  const decY = y(1e-10) - y(1e-9);
  const tilt = (Math.atan(decY / decX) * 180) / Math.PI;

  const xTicks = d3
    .range(-3, 2)
    .flatMap((d) => d3.range(1, 10).map((k) => ({ v: k * 10 ** d, major: k === 1 })))
    .filter((t) => t.v >= x.domain()[0] && t.v <= x.domain()[1]);
  const yTicks = d3.range(-21, -8).map((e) => ({ v: 10 ** e, major: e % 3 === 0 }));

  const dot = (pts: Pt[], fill: string) =>
    pts.map((p, i) => <circle key={i} cx={px(p)} cy={py(p)} r={5.8} fill={fill} />);

  const legendY = (i: number) => 185 + i * 58.5;

  return (
    <svg width={W} height={H} style={{ position: "absolute", left: 0, top: 0, background: "#fff" }}>
      <rect width={W} height={H} fill="#fff" />
      <defs>
        <clipPath id="frame">
          <rect x={frame.left} y={frame.top} width={frame.right - frame.left} height={frame.bottom - frame.top} />
        </clipPath>
      </defs>

      {/* characteristic age and dipole field lines */}
      <g clipPath="url(#frame)" fill="none" stroke={LINE} strokeWidth={2}>
        {ageLinesYr.map((t) => (
          <path key={t} d={segment(1, ageC(t))} strokeDasharray="34 32" />
        ))}
        {fieldLinesG.map((b) => (
          <path key={b} d={segment(-1, fieldC(b))} strokeDasharray="16 14" />
        ))}
      </g>
      {ageLabels.map(([label, t]) => {
        const lp = -2.79;
        const cx = x(10 ** lp);
        const cy = y(10 ** (lp + ageC(t)));
        return (
          <text key={label} transform={`translate(${cx},${cy}) rotate(${-tilt})`} y={-22}
            fontFamily={SANS} fontSize={56} fill="#111">{label}</text>
        );
      })}
      {fieldLabelExps.map((e) => {
        const lp = 0.975;
        const cx = x(10 ** lp);
        const cy = y(10 ** (-lp + fieldC(10 ** e)));
        return (
          <text key={e} transform={`translate(${cx},${cy}) rotate(${tilt})`} y={-8}
            fontFamily={SANS} fontSize={53} fill="#111">
            10<tspan fontSize={36} dy={-21}>{e}</tspan><tspan dy={21}> G</tspan>
          </text>
        );
      })}

      {/* data */}
      <g>
        {dot(isolatedPsrs, "#808080")}
        {dot(psr1Myr, "#000080")}
        {dot(psr100kyr, "#0000ff")}
        {dot(psr10kyr, "#00ffff")}
        {dot(binaries, "#d3d3d3")}
      </g>
      <g stroke="#ffff00" strokeWidth={1.6}>
        {xinsErrors.map(([lp, a, b], i) => (
          <g key={i}>
            <line x1={x(10 ** lp)} x2={x(10 ** lp)} y1={y(10 ** a)} y2={y(10 ** b)} />
            <line x1={x(10 ** lp) - 5} x2={x(10 ** lp) + 5} y1={y(10 ** a)} y2={y(10 ** a)} />
            <line x1={x(10 ** lp) - 5} x2={x(10 ** lp) + 5} y1={y(10 ** b)} y2={y(10 ** b)} />
          </g>
        ))}
      </g>
      {xinss.map((p, i) => (
        <rect key={i} x={px(p) - 8} y={py(p) - 8} width={16} height={16} fill="#ffff00" />
      ))}
      <g stroke="#ff0000" strokeWidth={1.6}>
        {magnetarErrors.map(([lp, a, b], i) => (
          <g key={i}>
            <line x1={x(10 ** lp)} x2={x(10 ** lp)} y1={y(10 ** a)} y2={y(10 ** b)} />
            <line x1={x(10 ** lp) - 6} x2={x(10 ** lp) + 6} y1={y(10 ** a)} y2={y(10 ** a)} />
            <line x1={x(10 ** lp) - 6} x2={x(10 ** lp) + 6} y1={y(10 ** b)} y2={y(10 ** b)} />
          </g>
        ))}
      </g>
      {magnetars.map((p, i) => (
        <path key={i} d={star(260)} transform={`translate(${px(p)},${py(p)})`} fill="#ff0000" />
      ))}

      {/* annotation lines */}
      <g fill="none" strokeLinecap="butt">
        <path d={segment(1, ageC(1e4))} stroke={RED} strokeWidth={11} strokeDasharray="79 82" />
        <path d={segment(-1, fieldC(1e14))} stroke={RED} strokeWidth={9} strokeDasharray="27 24" />
        <path d={segment(-1, fieldC(1e12))} stroke={BLUE} strokeWidth={9} strokeDasharray="28 25" />
        <ellipse cx={2098} cy={376.5} rx={264} ry={312} stroke={RED} strokeWidth={5.5} />
        <ellipse cx={1585.5} cy={1077.5} rx={647.5} ry={535.5} stroke={BLUE} strokeWidth={6} />
        <line x1={2362} x2={W} y1={376.5} y2={376.5} stroke={RED} strokeWidth={5} />
        <line x1={2233} x2={W} y1={1077} y2={1077} stroke={BLUE} strokeWidth={5} />
      </g>
      <text transform={`translate(594,885) rotate(${-tilt})`} textAnchor="middle"
        fontFamily={SERIF} fontSize={100} fill={RED}>10{"\u2009"}kyr</text>

      {/* frame and ticks */}
      <rect x={frame.left} y={frame.top} width={frame.right - frame.left} height={frame.bottom - frame.top}
        fill="none" stroke="#000" strokeWidth={3} />
      <g stroke="#000" strokeWidth={2}>
        {xTicks.map((t, i) => {
          const len = t.major ? 24 : 12;
          return (
            <g key={i}>
              <line x1={x(t.v)} x2={x(t.v)} y1={frame.bottom} y2={frame.bottom - len} />
              <line x1={x(t.v)} x2={x(t.v)} y1={frame.top} y2={frame.top + len} />
            </g>
          );
        })}
        {yTicks.map((t, i) => {
          const len = t.major ? 24 : 11;
          return (
            <g key={i}>
              <line x1={frame.left} x2={frame.left + len} y1={y(t.v)} y2={y(t.v)} />
              <line x1={frame.right} x2={frame.right - len} y1={y(t.v)} y2={y(t.v)} />
            </g>
          );
        })}
      </g>
      {xTickLabels.map(([v, s]) => (
        <text key={s} x={x(v)} y={2178} textAnchor="middle" fontFamily={SANS} fontSize={40}>{s}</text>
      ))}
      {yTickLabelExps.map((e) => (
        <text key={e} x={270} y={y(10 ** e) + 24} textAnchor="end" fontFamily={SANS} fontSize={44}>
          10<tspan fontSize={31} dy={-21}>{`\u2212${-e}`}</tspan>
        </text>
      ))}

      {/* big overlaid axis marks */}
      <g stroke="#000" strokeWidth={12}>
        <line x1={226} x2={332} y1={y(1e-9)} y2={y(1e-9)} />
        <line x1={226} x2={332} y1={y(1e-12)} y2={y(1e-12)} />
        <line x1={x(1)} x2={x(1)} y1={2074} y2={2181} />
        <line x1={x(10)} x2={x(10)} y1={2074} y2={2181} />
      </g>
      <g fontFamily={SERIF} fill="#000">
        <text x={33} y={90} fontSize={96}>10</text>
        <text x={128} y={60} fontSize={68}>{"\u22129"}</text>
        <text x={17} y={589} fontSize={96}>10</text>
        <text x={110} y={553} fontSize={66}>{"\u221212"}</text>
        <text x={x(1)} y={2268} fontSize={90} textAnchor="middle">1</text>
        <text x={2206} y={2268} fontSize={90} textAnchor="middle">10</text>
        <text x={2268} y={2268} fontSize={99}>(Olausen+14)</text>
        <text x={1147} y={2279} fontSize={105}>Period (s)</text>
        <text transform="translate(112,1170) rotate(-90)" textAnchor="middle" fontSize={106}>
          Period derivative (s s<tspan fontSize={70} dy={-40}>{"\u22121"}</tspan><tspan dy={40}>)</tspan>
        </text>
      </g>
      <g fontFamily={SERIF}>
        <text x={2374} y={663} fontSize={96} fill={RED}>10</text>
        <text x={2470} y={625} fontSize={64} fill={RED}>14</text>
        <text x={2551} y={663} fontSize={96} fill={RED}>G</text>
        <text x={2370} y={1356} fontSize={96} fill={BLUE}>10</text>
        <text x={2463} y={1317} fontSize={64} fill={BLUE}>12</text>
        <text x={2544} y={1356} fontSize={96} fill={BLUE}>G</text>
      </g>

      {/* legend */}
      <g>
        <rect x={338} y={113} width={654} height={468} fill="#fff" stroke="#444" strokeWidth={3} />
        <path d={star(640)} transform={`translate(426,${legendY(0) - 15})`} fill="#ff0000" />
        <rect x={406} y={legendY(1) - 35} width={40} height={40} fill="#ffff00" />
        {["#00ffff", "#0000ff", "#000080", "#808080", "#d3d3d3"].map((c, i) => (
          <circle key={c} cx={426} cy={legendY(i + 2) - 15} r={16} fill={c} />
        ))}
        {legendLabels.map((s, i) => (
          <text key={s} x={516} y={legendY(i)} fontFamily={SANS} fontSize={55}>{s}</text>
        ))}
      </g>
    </svg>
  );
}
